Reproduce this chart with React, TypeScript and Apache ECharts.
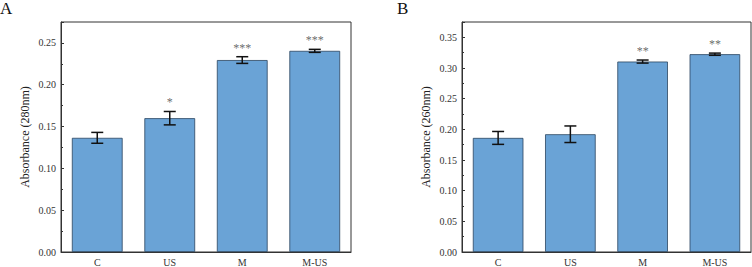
import React, { useEffect, useRef } from "react";
import * as echarts from "echarts";

const categories = ["C", "US", "M", "M-US"];
const meansA = [0.1365, 0.16, 0.2295, 0.2405];
const errsA = [0.0065, 0.008, 0.004, 0.0018];
const starsA = ["", "*", "***", "***"];
const meansB = [0.186, 0.192, 0.3105, 0.3225];
const errsB = [0.0105, 0.0135, 0.0025, 0.0018];
const starsB = ["", "", "**", "**"];
const yTicksA = { min: 0, max: 0.275, interval: 0.05 };
const yTicksB = { min: 0, max: 0.375, interval: 0.05 };

const FONT = "Liberation Serif";
const BAR = "#6aa3d6";
const BORDER = "#2b4560";

export default function App() {
  const ref = useRef<HTMLDivElement>(null);
  useEffect(() => {
    const chart = echarts.init(ref.current!, null, { renderer: "svg" });

    const makeErr = (means: number[], errs: number[], idx: number) => ({
      type: "custom",
      xAxisIndex: idx,
      yAxisIndex: idx,
      z: 10,
      data: means.map((m, i) => [i, m, errs[i]]),
      renderItem: (params: any, api: any) => {
        const i = api.value(0);
        const m = api.value(1);
        const e = api.value(2);
        const top = api.coord([i, m + e]);
        const bot = api.coord([i, m - e]);
        const hw = 6;
        const style = { stroke: "#111", lineWidth: 1.5 };
        return {
          type: "group",
          children: [
            { type: "line", shape: { x1: top[0], y1: top[1], x2: bot[0], y2: bot[1] }, style },
            { type: "line", shape: { x1: top[0] - hw, y1: top[1], x2: top[0] + hw, y2: top[1] }, style },
            { type: "line", shape: { x1: bot[0] - hw, y1: bot[1], x2: bot[0] + hw, y2: bot[1] }, style },
          ],
        };
      },
    });

    const makeStars = (means: number[], errs: number[], stars: string[], idx: number) => ({
      type: "scatter",
      xAxisIndex: idx,
      yAxisIndex: idx,
      symbolSize: 0,
      z: 11,
      itemStyle: { color: "transparent" },
      data: means.map((m, i) => [i, m + errs[i]]),
      label: {
        show: true,
        position: "top",
        distance: 3,
        color: "#444",
        fontFamily: FONT,
        fontSize: 12,
        formatter: (p: any) => stars[p.dataIndex],
      },
    });

    const yAxis = (idx: number, t: any, name: string) => ({
      gridIndex: idx,
      type: "value",
      min: t.min,
      max: t.max,
      interval: t.interval,
      name,
      nameLocation: "middle",
      nameGap: 30,
      nameTextStyle: { fontFamily: FONT, fontSize: 12, color: "#222" },
      axisLine: { show: true, lineStyle: { color: "#333", width: 1 } },
      axisTick: { show: true, inside: true, length: 3, lineStyle: { color: "#333" } },
      minorTick: { show: true, splitNumber: 2, length: 2, lineStyle: { color: "#333" } },
      splitLine: { show: false },
      axisLabel: {
        fontFamily: FONT,
        fontSize: 10,
        color: "#333",
        margin: 5,
        formatter: (v: number) => (Math.abs(v / t.interval - Math.round(v / t.interval)) > 1e-6 ? "" : v.toFixed(2)),
      },
    });

    const xAxis = (idx: number) => ({
      gridIndex: idx,
      type: "category",
      data: categories,
      axisLine: { show: true, lineStyle: { color: "#333", width: 1 } },
      axisTick: { show: false },
      axisLabel: { fontFamily: FONT, fontSize: 10, color: "#333", margin: 5 },
    });

    const barSeries = (idx: number, means: number[]) => ({
      type: "bar",
      xAxisIndex: idx,
      yAxisIndex: idx,
      data: means,
      barWidth: "70%",
      itemStyle: { color: BAR, borderColor: BORDER, borderWidth: 0.8 },
    });

    chart.setOption({
      animation: false,
      backgroundColor: "#fff",
      grid: [
        { left: 61, top: 22, width: 290, height: 232, show: true, borderColor: "#333", borderWidth: 1, backgroundColor: "transparent" },
        { left: 462, top: 22, width: 289, height: 232, show: true, borderColor: "#333", borderWidth: 1, backgroundColor: "transparent" },
      ],
      xAxis: [xAxis(0), xAxis(1)],
      yAxis: [yAxis(0, yTicksA, "Absorbance (280nm)"), yAxis(1, yTicksB, "Absorbance (260nm)")],
      series: [
        barSeries(0, meansA),
        barSeries(1, meansB),
        makeErr(meansA, errsA, 0),
        makeErr(meansB, errsB, 1),
        makeStars(meansA, errsA, starsA, 0),
        makeStars(meansB, errsB, starsB, 1),
      ],
      graphic: [
        { type: "text", left: 0, top: 0, style: { text: "A", font: `17px '${FONT}'`, fill: "#111" } },
        { type: "text", left: 397, top: 0, style: { text: "B", font: `17px '${FONT}'`, fill: "#111" } },
      ],
    });
    return () => chart.dispose();
  }, []);
  return <div ref={ref} style={{ width: 752, height: 267, position: "absolute", left: 0, top: 0 }} />;
}
